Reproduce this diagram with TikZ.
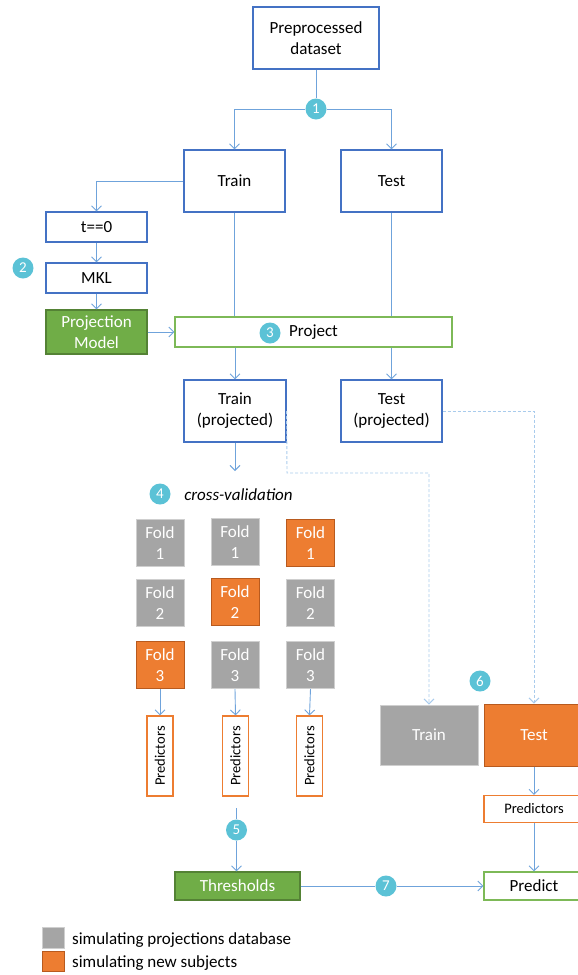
\documentclass[tikz,border=0pt]{standalone}
\usepackage{fontspec}
\setmainfont{Carlito}
\usetikzlibrary{arrows.meta}
\definecolor{bbord}{HTML}{4472C4}
\definecolor{conn}{HTML}{6FA3DB}
\definecolor{dashc}{HTML}{A9CBEC}
\definecolor{numc}{HTML}{5BC2D6}
\definecolor{gfill}{HTML}{70AD47}
\definecolor{gbord}{HTML}{548235}
\definecolor{glight}{HTML}{7DB957}
\definecolor{ofill}{HTML}{ED7D31}
\definecolor{obord}{HTML}{B85A1E}
\definecolor{gyfill}{HTML}{A5A5A5}
\definecolor{gybord}{HTML}{CFCFCF}
\tikzset{
  lbl/.style={font=\fontsize{17}{21}\selectfont},
  box/.style={lbl, draw=bbord, line width=1.2pt, fill=white, inner sep=0pt, align=center},
  gbox/.style={lbl, draw=gbord, line width=1.2pt, fill=gfill, text=white, inner sep=0pt, align=center},
  pbox/.style={draw=ofill, line width=1.2pt, fill=white, inner sep=0pt, font=\fontsize{14.5}{16}\selectfont},
  num/.style={circle, fill=numc, text=white, minimum size=21pt, inner sep=0pt, font=\fontsize{15}{15}\selectfont},
  fold/.style={lbl, minimum width=48pt, minimum height=47pt, text=white, align=center, inner sep=0pt, line width=1pt},
  gfold/.style={fold, fill=gyfill, draw=gybord},
  ofold/.style={fold, fill=ofill, draw=obord},
  ln/.style={draw=conn, line width=0.9pt},
  arr/.style={ln, -{Straight Barb[length=5pt,width=10pt]}},
  dsh/.style={draw=dashc, line width=0.9pt, dash pattern=on 3pt off 2pt, -{Straight Barb[length=5pt,width=10pt]}}
}
\begin{document}
\begin{tikzpicture}[x=1pt,y=-1pt]
\useasboundingbox (0,0) rectangle (578,975);
% top part
\node[box, minimum width=126pt, minimum height=62pt] (pre) at (316,38) {Preprocessed\\dataset};
\node[num] (c1) at (316,109) {1};
\node[box, minimum width=101pt, minimum height=62pt] (train) at (234.5,181) {Train};
\node[box, minimum width=101pt, minimum height=62pt] (test) at (391.5,181) {Test};
\node[box, minimum width=101pt, minimum height=30pt] (t0) at (96.5,227) {t==0};
\node[num] (c2) at (23,268) {2};
\node[box, minimum width=101pt, minimum height=30pt] (mkl) at (96.5,278) {MKL};
\node[gbox, minimum width=101pt, minimum height=44pt] (pm) at (96.5,332) {Projection\\Model};
\node[box, draw=glight, minimum width=277pt, minimum height=30pt] (proj) at (313.5,332) {Project};
\node[num] (c3) at (270,333) {3};
\node[box, minimum width=102pt, minimum height=62pt] (trainp) at (235,411) {Train\\(projected)};
\node[box, minimum width=101pt, minimum height=62pt] (testp) at (391.5,411) {Test\\(projected)};
\coordinate (cv) at (235,471);
\coordinate (d1) at (287,473);
\node[num] (c4) at (160,494) {4};
\node[lbl, font=\fontsize{17}{21}\selectfont\itshape] (cvt) at (238.5,495) {cross-validation};
% folds
\node[gfold] (f11) at (160,543) {Fold\\1};
\node[gfold] (f12) at (160,603) {Fold\\2};
\node[ofold] (f13) at (160,665) {Fold\\3};
\node[gfold] (f21) at (235,542) {Fold\\1};
\node[ofold] (f22) at (235,602) {Fold\\2};
\node[gfold] (f23) at (235,665) {Fold\\3};
\node[ofold] (f31) at (310.5,543) {Fold\\1};
\node[gfold] (f32) at (310.5,603) {Fold\\2};
\node[gfold] (f33) at (310.5,665) {Fold\\3};
% predictors
\node[pbox, minimum width=26pt, minimum height=80pt] (p1) at (160,756) {\rotatebox{90}{Predictors}};
\node[pbox, minimum width=26pt, minimum height=80pt] (p2) at (235.5,756) {\rotatebox{90}{Predictors}};
\node[pbox, minimum width=26pt, minimum height=80pt] (p3) at (309.5,756) {\rotatebox{90}{Predictors}};
\coordinate (p5top) at (236.5,808);
\node[num] (c5) at (236.5,830) {5};
\node[gbox, minimum width=125pt, minimum height=28pt] (thr) at (237.5,886) {Thresholds};
\node[num] (c7) at (386,886) {7};
\node[box, draw=glight, minimum width=100pt, minimum height=28pt] (pred) at (534,886) {Predict};
% right column
\node[num] (c6) at (480,681) {6};
\node[lbl, fill=gyfill, draw=gybord, line width=1pt, text=white, minimum width=98pt, minimum height=60pt] (trainG) at (429,735) {Train};
\node[lbl, fill=ofill, draw=obord, line width=1pt, text=white, minimum width=100pt, minimum height=62pt] (testO) at (534,735) {Test};
\node[pbox, minimum width=100pt, minimum height=27pt] (predh) at (534,809) {Predictors};
% legend
\node[fill=gyfill, draw=gybord, line width=1pt, minimum width=22pt, minimum height=21pt, inner sep=0pt] (lg) at (53,937.5) {};
\node[fill=ofill, draw=obord, line width=1pt, minimum width=22pt, minimum height=20pt, inner sep=0pt] (lo) at (53,961) {};
\node[lbl, anchor=west, inner sep=0pt] (lgt) at (72,940) {simulating projections database};
\node[lbl, anchor=west, inner sep=0pt] (lot) at (72,963) {simulating new subjects};
% connectors
\draw[ln] (pre.south) -- (c1.north);
\draw[arr] (c1.west) -| (train.north);
\draw[arr] (c1.east) -| (test.north);
\draw[arr] (train.west) -| (t0.north);
\draw[arr] (t0.south) -- (mkl.north);
\draw[arr] (mkl.south) -- (pm.north);
\draw[arr] (pm.east) -- (proj.west);
\draw[ln] (train.south) -- (train.south |- proj.north);
\draw[ln] (test.south) -- (test.south |- proj.north);
\draw[arr] (proj.south -| trainp.north) -- (trainp.north);
\draw[arr] (proj.south -| testp.north) -- (testp.north);
\draw[arr] (trainp.south) -- (cv);
\draw[dsh] (trainp.east) -- (d1) -| (trainG.north);
\draw[dsh] (testp.east) -| (testO.north);
\draw[arr] (f13.south) -- (p1.north);
\draw[arr] (f23.south) -- (p2.north);
\draw[arr] (f33.south) -- (p3.north);
\draw[ln] (p5top) -- (c5.north);
\draw[arr] (c5.south) -- (c5.south |- thr.north);
\draw[ln] (thr.east) -- (c7.west);
\draw[arr] (c7.east) -- (pred.west);
\draw[arr] (testO.south) -- (predh.north);
\draw[arr] (predh.south) -- (pred.north);
\end{tikzpicture}
\end{document}
